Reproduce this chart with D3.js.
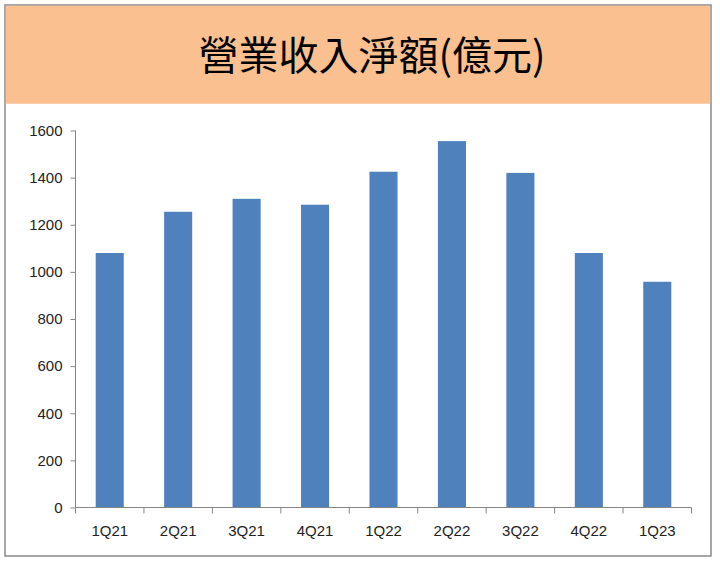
<!DOCTYPE html>
<html><head><meta charset="utf-8">
<script src="https://cdn.jsdelivr.net/npm/d3@7"></script>
<style>body{margin:0;background:#fff}</style></head>
<body><svg id="c" width="720" height="568"></svg>
<script>
const categories=["1Q21","2Q21","3Q21","4Q21","1Q22","2Q22","3Q22","4Q22","1Q23"];
const values=[1080,1255,1310,1285,1425,1555,1420,1080,958];
const yTicks=[0,200,400,600,800,1000,1200,1400,1600];
const title="營業收入淨額(億元)";
const svg=d3.select("#c");
svg.append("rect").attr("x",5).attr("y",5).attr("width",706).attr("height",551).attr("fill","#fff").attr("stroke","#898989").attr("stroke-width",1.5);
svg.append("rect").attr("x",5.75).attr("y",5.75).attr("width",704.5).attr("height",98).attr("fill","#FAC090");
svg.append("text").attr("x",372).attr("y",70).attr("text-anchor","middle").attr("font-family","Noto Sans CJK TC").attr("font-size",40).attr("fill","#000").text(title);
const x=d3.scaleBand().domain(categories).range([75.5,691.5]).paddingInner(0.59).paddingOuter(0.295);
const y=d3.scaleLinear().domain([0,1600]).range([507.5,130.5]);
const g=svg.append("g");
g.selectAll("rect.b").data(values).join("rect").attr("class","b").attr("x",(d,i)=>x(categories[i])).attr("width",x.bandwidth()).attr("y",d=>y(d)).attr("height",d=>y(0)-y(d)).attr("fill","#4F81BD");
const ya=svg.append("g").attr("transform","translate(75.5,0)").call(d3.axisLeft(y).tickValues(yTicks).tickSize(5).tickPadding(8).tickFormat(d3.format("d")));
const xa=svg.append("g").attr("transform","translate(0,507.5)").call(d3.axisBottom(x).tickSize(0).tickPadding(18));
// category separators
const step=x.step();
xa.selectAll("line.sep").data(d3.range(categories.length+1)).join("line").attr("x1",i=>75.5+i*step).attr("x2",i=>75.5+i*step).attr("y1",0).attr("y2",6).attr("stroke","#868686");
[ya,xa].forEach(a=>{a.selectAll("path.domain").attr("stroke","#868686");a.selectAll(".tick line").attr("stroke","#868686");a.selectAll("text").attr("font-family","Liberation Sans, Arial").attr("font-size",15).attr("fill","#222");});
ya.select("path.domain").attr("d","M0,130.5V507.5");
xa.select("path.domain").attr("d","M75.5,0H691.5");
</script></body></html>
